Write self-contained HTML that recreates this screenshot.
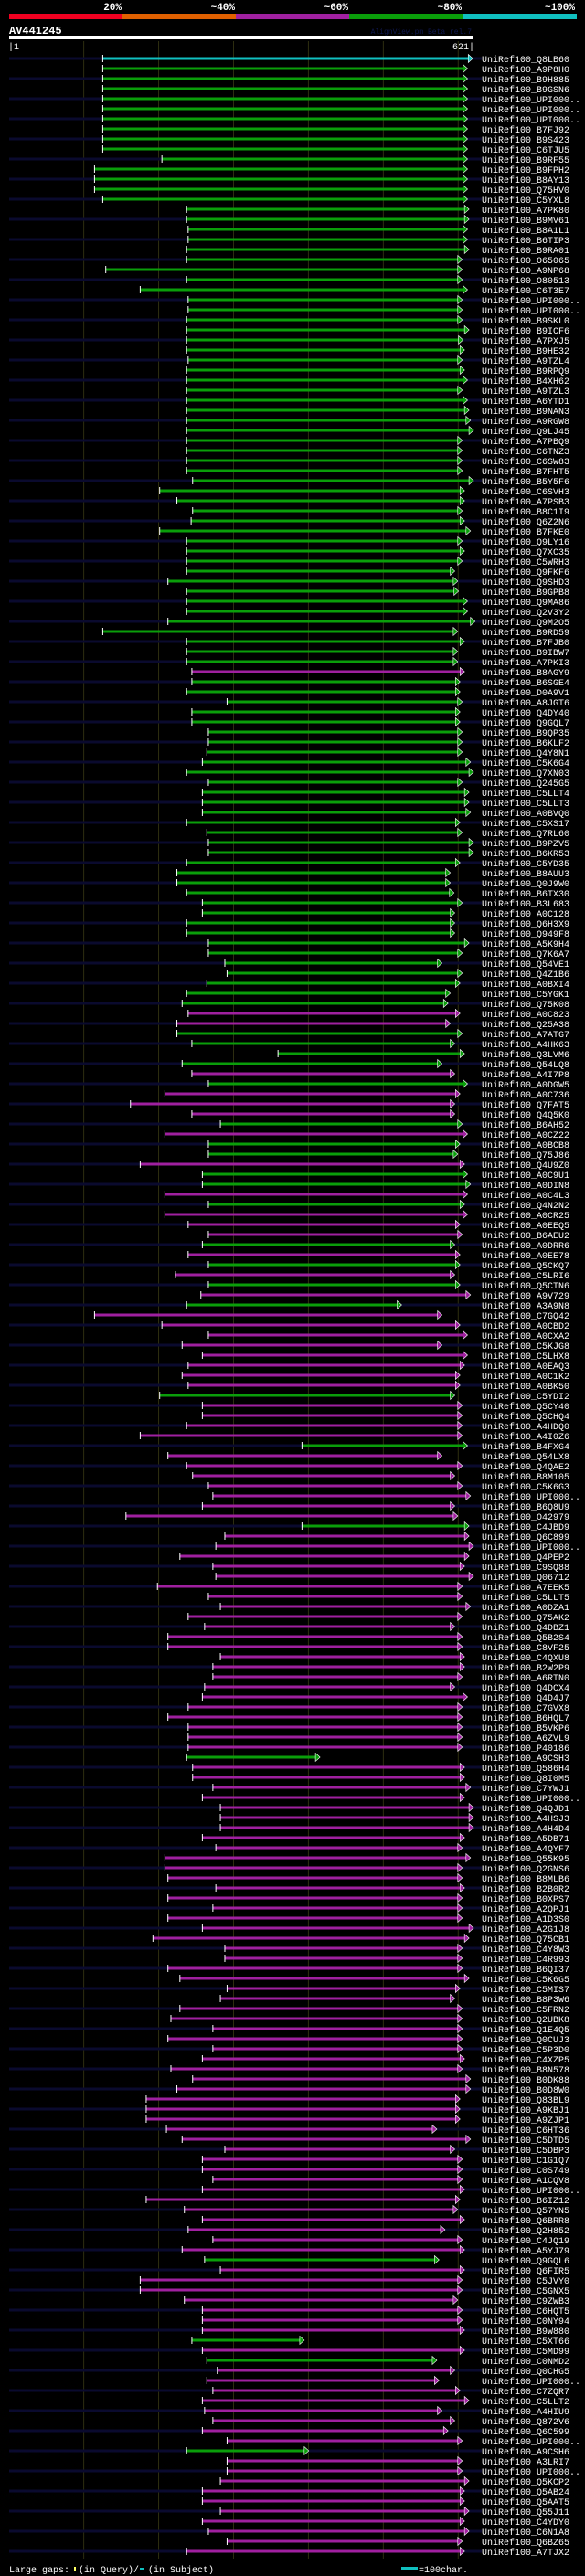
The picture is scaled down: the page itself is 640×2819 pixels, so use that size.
<!DOCTYPE html>
<html><head><meta charset="utf-8">
<style>
html,body{margin:0;padding:0;background:#000;}
svg{display:block;}
text{font-family:"Liberation Mono","DejaVu Sans Mono",monospace;}
</style></head>
<body>
<svg id="chart" width="640" height="2819" viewBox="0 0 640 2819" xmlns="http://www.w3.org/2000/svg">
<rect x="0" y="0" width="640" height="2819" fill="#000"/>
<g>
<rect x="10" y="15" width="124" height="6" fill="#f00020"/>
<rect x="134" y="15" width="124" height="6" fill="#e06000"/>
<rect x="258" y="15" width="124" height="6" fill="#a020a0"/>
<rect x="382" y="15" width="124" height="6" fill="#0a9e0a"/>
<rect x="506" y="15" width="125" height="6" fill="#10c0c0"/>
<text x="133" y="11" fill="#fff" font-size="11" font-weight="bold" text-anchor="end">20%</text>
<text x="257" y="11" fill="#fff" font-size="11" font-weight="bold" text-anchor="end">~40%</text>
<text x="381" y="11" fill="#fff" font-size="11" font-weight="bold" text-anchor="end">~60%</text>
<text x="505" y="11" fill="#fff" font-size="11" font-weight="bold" text-anchor="end">~80%</text>
<text x="629" y="11" fill="#fff" font-size="11" font-weight="bold" text-anchor="end">~100%</text>
</g>
<text x="10" y="37" fill="#fff" font-size="12" font-weight="bold">AV441245</text>
<text x="516" y="37" fill="#101850" font-size="8" text-anchor="end">AlignView.pm Beta rel.7</text>
<rect x="10" y="39" width="508" height="4" fill="#fff"/>
<text x="9" y="54" fill="#fff" font-size="10">|1</text>
<text x="519" y="54" fill="#fff" font-size="10" text-anchor="end">621|</text>
<g id="grid"></g>
<g id="rows"></g>
<g>
<text x="10" y="2815" fill="#fff" font-size="10">Large gaps:</text>
<rect x="81" y="2809" width="2" height="5" fill="#ffff60"/>
<text x="86" y="2815" fill="#fff" font-size="10">(in Query)/</text>
<rect x="153" y="2810" width="5" height="2" fill="#10c0c0"/>
<text x="162" y="2815" fill="#fff" font-size="10">(in Subject)</text>
<rect x="439" y="2809" width="18" height="3" fill="#10c0c0"/>
<text x="458" y="2815" fill="#fff" font-size="10">=100char.</text>
</g>
</svg>
<script>
const queryLength = 621;
const gridTicks = [100,200,300,400,500,600];
const hitNames = ["Q8LB60","A9P8H0","B9H885","B9GSN6","UPI000..","UPI000..","UPI000..","B7FJ92","B9S423","C6TJU5",
"B9RF55","B9FPH2","B8AY13","Q75HV0","C5YXL8","A7PK80","B9MV61","B8A1L1","B6TIP3","B9RA01",
"O65065","A9NP68","O80513","C6T3E7","UPI000..","UPI000..","B9SKL0","B9ICF6","A7PXJ5","B9HE32",
"A9TZL4","B9RPQ9","B4XH62","A9TZL3","A6YTD1","B9NAN3","A9RGW8","Q9LJ45","A7PBQ9","C6TNZ3",
"C6SW83","B7FHT5","B5Y5F6","C6SVH3","A7PSB3","B8C1I9","Q6Z2N6","B7FKE0","Q9LY16","Q7XC35",
"C5WRH3","Q9FKF6","Q9SHD3","B9GPB8","Q9MA86","Q2V3Y2","Q9M2O5","B9RD59","B7FJB0","B9IBW7",
"A7PKI3","B8AGY9","B6SGE4","D0A9V1","A8JGT6","Q4DY40","Q9GQL7","B9QP35","B6KLF2","Q4Y8N1",
"C5K6G4","Q7XN03","Q245G5","C5LLT4","C5LLT3","A0BVQ0","C5XS17","Q7RL60","B9PZV5","B6KR53",
"C5YD35","B8AUU3","Q0J9W0","B6TX30","B3L683","A0C128","Q6H3X9","Q949F8","A5K9H4","Q7K6A7",
"Q54VE1","Q4Z1B6","A0BXI4","C5YGK1","Q75K08","A0C823","Q25A38","A7ATG7","A4HK63","Q3LVM6",
"Q54LQ8","A4I7P8","A0DGW5","A0C736","Q7FAT5","Q4Q5K0","B6AH52","A0CZ22","A0BCB8","Q75J86",
"Q4U9Z0","A0C9U1","A0DIN8","A0C4L3","Q4N2N2","A0CR25","A0EEQ5","B6AEU2","A0DRR6","A0EE78",
"Q5CKQ7","C5LRI6","Q5CTN6","A9V729","A3A9N8","C7GQ42","A0CBD2","A0CXA2","C5KJG8","C5LHX8",
"A0EAQ3","A0C1K2","A0BK50","C5YDI2","Q5CY40","Q5CHQ4","A4HDQ0","A4I0Z6","B4FXG4","Q54LX8",
"Q4QAE2","B8M105","C5K6G3","UPI000..","B6Q8U9","O42979","C4JBD9","Q6C899","UPI000..","Q4PEP2",
"C9SQ88","Q06712","A7EEK5","C5LLT5","A0DZA1","Q75AK2","Q4DBZ1","Q5B2S4","C8VF25","C4QXU8",
"B2W2P9","A6RTN0","Q4DCX4","Q4D4J7","C7GVX8","B6HQL7","B5VKP6","A6ZVL9","P40186","A9CSH3",
"Q586H4","Q8I0M5","C7YWJ1","UPI000..","Q4QJD1","A4HSJ3","A4H4D4","A5DB71","A4QYF7","Q55K95",
"Q2GNS6","B8MLB6","B2B0R2","B0XPS7","A2QPJ1","A1D3S0","A2G1J8","Q75CB1","C4Y8W3","C4R993",
"B6QI37","C5K6G5","C5MIS7","B8P3W6","C5FRN2","Q2UBK8","Q1E4Q5","Q0CUJ3","C5P3D0","C4XZP5",
"B8N578","B0DK88","B0D8W0","Q83BL9","A9KBJ1","A9ZJP1","C6HT36","C5DTD5","C5DBP3","C1G1Q7",
"C0S749","A1CQV8","UPI000..","B6IZ12","Q57YN5","Q6BRR8","Q2H852","C4JQ19","A5YJ79","Q9GQL6",
"Q6FIR5","C5JVY0","C5GNX5","C9ZWB3","C6HQT5","C0NY94","B9W880","C5XT66","C5MD99","C0NMD2",
"Q0CHG5","UPI000..","C7ZQR7","C5LLT2","A4HIU9","Q872V6","Q6C599","UPI000..","A9CSH6","A3LRI7",
"UPI000..","Q5KCP2","Q5AB24","Q5AAT5","Q55J11","C4YDY0","C6N1A8","Q6BZ65","A7TJX2"];
const hitStart = [126,126,126,126,126,126,126,126,126,126,
205,115,115,115,126,238,238,240,240,238,
238,130,238,176,240,240,238,238,238,238,
240,238,238,238,238,238,238,238,238,238,
238,238,246,202,225,246,244,202,238,238,
238,238,213,238,238,238,213,126,238,238,
238,245,245,238,292,245,245,267,267,265,
259,238,267,259,259,259,238,265,267,267,
238,225,225,238,259,259,238,238,267,267,
289,292,265,238,232,240,225,225,245,360,
232,245,267,209,163,245,283,209,267,267,
176,259,259,209,267,209,240,267,259,240,
267,223,267,257,238,115,205,267,232,259,
240,232,240,202,259,259,238,176,392,213,
238,246,267,273,259,157,392,289,277,229,
273,277,199,267,283,240,262,213,213,283,
273,273,262,259,240,213,240,240,240,238,
246,246,273,259,283,283,283,259,277,209,
209,213,277,213,273,213,259,193,289,289,
213,229,292,283,229,217,273,213,273,259,
217,246,225,184,184,184,211,232,289,259,
259,273,259,184,235,259,240,273,232,262,
283,176,176,235,259,259,259,245,259,265,
279,265,273,259,262,273,259,292,238,292,
292,283,259,259,283,259,267,292,238];
const hitEnd = [614,607,607,607,607,607,607,607,607,607,
607,607,607,607,607,609,609,607,607,609,
600,600,600,607,600,600,600,609,601,603,
600,603,607,600,607,609,611,615,600,600,
600,600,615,603,603,600,603,611,600,603,
600,590,594,595,607,607,617,594,603,594,
594,603,597,597,600,597,597,600,600,600,
611,615,600,609,609,611,597,600,615,615,
597,584,584,589,600,590,590,590,609,600,
573,600,597,584,581,597,584,600,590,603,
573,590,607,597,590,590,600,607,597,594,
603,607,611,607,603,607,597,600,590,597,
597,590,597,611,519,573,597,607,573,607,
603,597,597,590,600,600,600,600,607,573,
600,590,600,611,590,594,609,609,615,609,
603,615,600,600,611,600,590,600,600,603,
603,600,590,607,600,600,600,600,600,410,
603,603,611,603,615,615,615,603,600,611,
600,600,603,600,600,600,615,609,600,600,
600,609,597,590,600,600,600,600,600,603,
600,611,611,597,597,597,566,611,590,600,
600,600,603,597,594,603,577,600,603,569,
603,600,600,594,600,600,603,389,603,566,
590,569,597,609,573,590,581,600,395,600,
600,609,603,603,609,603,609,600,603];
const hitIdentity = ["c","g","g","g","g","g","g","g","g","g",
"g","g","g","g","g","g","g","g","g","g",
"g","g","g","g","g","g","g","g","g","g",
"g","g","g","g","g","g","g","g","g","g",
"g","g","g","g","g","g","g","g","g","g",
"g","g","g","g","g","g","g","g","g","g",
"g","m","g","g","g","g","g","g","g","g",
"g","g","g","g","g","g","g","g","g","g",
"g","g","g","g","g","g","g","g","g","g",
"g","g","g","g","g","m","m","g","g","g",
"g","m","g","m","m","m","g","m","g","g",
"m","g","g","m","g","m","m","m","g","m",
"g","m","g","m","g","m","m","m","m","m",
"m","m","m","g","m","m","m","m","g","m",
"m","m","m","m","m","m","g","m","m","m",
"m","m","m","m","m","m","m","m","m","m",
"m","m","m","m","m","m","m","m","m","g",
"m","m","m","m","m","m","m","m","m","m",
"m","m","m","m","m","m","m","m","m","m",
"m","m","m","m","m","m","m","m","m","m",
"m","m","m","m","m","m","m","m","m","m",
"m","m","m","m","m","m","m","m","m","g",
"m","m","m","m","m","m","m","g","m","g",
"m","m","m","m","m","m","m","m","g","m",
"m","m","m","m","m","m","m","m","m"];

const NS = "http://www.w3.org/2000/svg";
const colorMap = {c:"#10c0c0", g:"#0a9e0a", m:"#a020a0"};
const X0 = 10, X1 = 518, ROW0 = 64, ROWH = 11;
function xScale(r){ return X0 + (r - 1) * (X1 - X0) / (queryLength - 1); }
function yScale(i){ return ROW0 + i * ROWH; }
function mk(tag, attrs){ const e = document.createElementNS(NS, tag); for (const k in attrs) e.setAttribute(k, attrs[k]); return e; }

const grid = document.getElementById('grid');
gridTicks.forEach(function(t){
  const l = mk('line', {x1:xScale(t)+0.5, x2:xScale(t)+0.5, y1:45, y2:2800, stroke:'#2e2e10', 'stroke-width':1});
  
  
  grid.appendChild(l);
});

const rows = document.getElementById('rows');
hitNames.forEach(function(name, i){
  const y = yScale(i);
  const g = mk('g', {});
  
  
  if (i % 2 === 0) {
    const s = mk('rect', {x:X0, y:y-1.5, width:527-X0, height:3, fill:'#0a0a2e'});
    
    
    g.appendChild(s);
  }
  const xs = xScale(hitStart[i]), xe = xScale(hitEnd[i]);
  const col = colorMap[hitIdentity[i]];
  const bar = mk('rect', {x:xs, y:y-1.5, width:Math.max(0,xe-xs), height:3, fill:col});
  
  
  g.appendChild(bar);
  const tick = mk('rect', {x:xs-0.5, y:y-4, width:1, height:8, fill:'#fff'});
  
  
  g.appendChild(tick);
  const arr = mk('polygon', {points:(xe)+','+(y-4.5)+' '+(xe+5)+','+y+' '+(xe)+','+(y+4.5), fill:col, stroke:'#fff', 'stroke-width':0.6});
  
  
  g.appendChild(arr);
  const t = mk('text', {x:527, y:y+4, fill:'#fff', 'font-size':10});
  t.textContent = 'UniRef100_' + name;
  
  
  g.appendChild(t);
  rows.appendChild(g);
});
</script>
</body></html>
